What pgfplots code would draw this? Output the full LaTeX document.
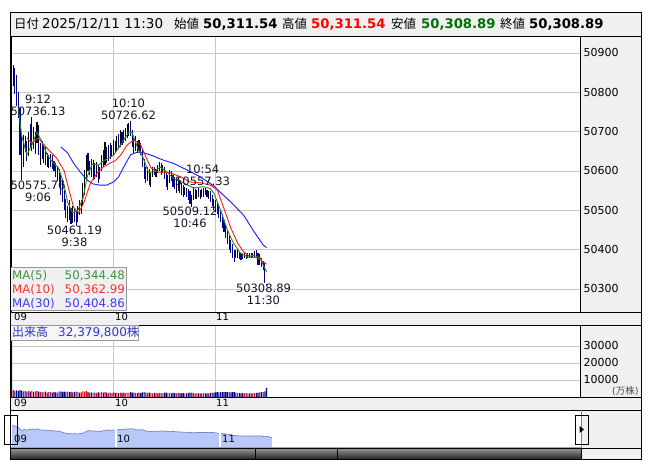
\documentclass[border=0pt]{standalone}
\usepackage{fontspec}
\setmainfont{DejaVu Sans}
\newfontfamily\jp{Noto Sans CJK JP}
\usepackage{pgfplots}
\pgfplotsset{compat=1.18}
\usepackage{pgfplotstable}

\definecolor{panel}{HTML}{F0F0F0}
\definecolor{gridc}{HTML}{C8C8C8}
\definecolor{barup}{HTML}{000000}
\definecolor{bardn}{HTML}{00008B}
\definecolor{maG}{HTML}{1E8C1E}
\definecolor{maR}{HTML}{FF1A1A}
\definecolor{maB}{HTML}{1A1AFF}
\definecolor{volR}{HTML}{FF0000}
\definecolor{volB}{HTML}{00008B}
\definecolor{navfill}{HTML}{B8C8F8}
\definecolor{navline}{HTML}{7884C8}
\definecolor{lbltext}{HTML}{3434C8}
\definecolor{anno}{HTML}{141428}
\definecolor{hgreen}{HTML}{007000}
\definecolor{hred}{HTML}{FF0000}
\definecolor{cyanl}{HTML}{1AA0E0}
\definecolor{lgG}{HTML}{3C963C}
\definecolor{lgR}{HTML}{FF3232}
\definecolor{lgB}{HTML}{3C3CFF}

% t = minutes after 9:00, lo/hi = bar range, c = close, v = volume (10k shares), d = 1 up / 0 down
\pgfplotstableread{
t lo hi c v d
0 50780 50877 50830 45000 0
1 50815 50870 50855 4200 1
2 50795 50862 50810 3600 0
3 50765 50845 50790 3900 0
4 50735 50800 50750 3500 0
5 50640 50760 50660 4100 0
6 50576 50690 50620 3800 0
7 50610 50692 50680 3300 1
8 50648 50690 50660 3600 0
9 50625 50676 50640 3200 0
10 50638 50700 50690 3500 1
11 50660 50720 50670 3100 0
12 50652 50736 50700 3700 1
13 50655 50712 50665 3000 0
14 50642 50700 50690 3300 1
15 50672 50725 50710 3400 1
16 50640 50716 50650 3100 0
17 50615 50670 50660 2800 1
18 50630 50676 50645 3000 0
19 50620 50665 50655 2700 1
20 50615 50660 50625 3200 0
21 50610 50645 50630 2600 1
22 50608 50640 50615 2900 0
23 50610 50642 50635 2800 1
24 50605 50640 50615 2500 0
25 50600 50625 50610 3000 0
26 50585 50620 50595 2700 0
27 50575 50612 50605 2600 1
28 50572 50606 50580 3100 0
29 50540 50595 50550 3300 0
30 50520 50580 50530 3000 0
31 50500 50552 50510 3200 0
32 50480 50530 50490 2900 0
33 50470 50512 50500 3100 1
34 50475 50525 50485 2800 0
35 50465 50505 50475 3000 0
36 50468 50510 50495 2700 1
37 50470 50505 50480 2900 0
38 50461 50500 50470 3200 0
39 50470 50510 50500 2800 1
40 50488 50526 50495 2600 0
41 50490 50525 50515 2700 1
42 50510 50570 50560 3300 1
43 50540 50603 50590 3100 1
44 50580 50640 50630 3400 1
45 50600 50646 50610 2900 0
46 50590 50625 50620 2600 1
47 50585 50630 50595 2700 0
48 50577 50628 50615 2500 1
49 50580 50620 50590 2600 0
50 50585 50623 50610 2400 1
51 50570 50615 50580 2700 0
52 50580 50610 50600 2500 1
53 50600 50640 50630 2800 1
54 50610 50653 50620 2600 0
55 50615 50674 50660 2900 1
56 50620 50660 50635 2500 0
57 50625 50665 50650 2400 1
58 50630 50671 50645 2600 0
59 50635 50665 50655 2300 1
60 50640 50679 50665 2700 1
61 50646 50675 50655 2400 0
62 50650 50690 50680 2600 1
63 50655 50695 50670 2300 0
64 50660 50704 50690 2500 1
65 50665 50700 50680 2400 0
66 50670 50705 50695 2600 1
67 50675 50710 50700 2300 1
68 50685 50720 50705 2500 1
69 50690 50722 50710 2400 1
70 50690 50727 50700 2800 0
71 50660 50705 50670 2600 0
72 50646 50685 50660 2500 0
73 50650 50690 50665 2400 1
74 50646 50675 50655 2300 0
75 50650 50679 50665 2500 1
76 50640 50672 50650 2400 0
77 50610 50655 50620 2700 0
78 50580 50630 50595 2800 0
79 50570 50610 50590 2500 0
80 50575 50610 50600 2400 1
81 50565 50605 50575 2600 0
82 50560 50595 50590 2300 1
83 50585 50610 50600 2200 1
84 50590 50610 50595 2400 0
85 50585 50605 50600 2300 1
86 50595 50615 50605 2200 1
87 50600 50623 50615 2400 1
88 50590 50620 50600 2300 0
89 50595 50615 50605 2200 1
90 50580 50610 50590 2500 0
91 50560 50600 50570 2600 0
92 50552 50590 50585 2400 1
93 50570 50602 50590 2300 1
94 50575 50600 50580 2200 0
95 50560 50590 50575 2400 0
96 50555 50585 50565 2300 0
97 50545 50580 50570 2200 1
98 50550 50585 50560 2400 0
99 50544 50575 50555 2300 0
100 50540 50570 50550 2200 0
101 50535 50565 50545 2300 0
102 50538 50560 50550 2100 1
103 50535 50558 50545 2200 0
104 50525 50555 50535 2400 0
105 50515 50548 50525 2500 0
106 50509 50540 50530 2600 1
107 50525 50559 50545 2300 1
108 50530 50555 50540 2200 0
109 50530 50552 50545 2100 1
110 50535 50558 50540 2200 0
111 50530 50552 50545 2100 1
112 50535 50555 50540 2200 0
113 50535 50556 50550 2300 1
114 50540 50557 50545 2200 0
115 50535 50552 50540 2100 0
116 50530 50550 50545 2200 1
117 50520 50548 50530 2400 0
118 50510 50540 50520 2500 0
119 50500 50530 50510 2600 0
120 50495 50525 50505 2700 0
121 50490 50520 50500 2800 0
122 50480 50510 50490 2700 0
123 50470 50500 50480 2900 0
124 50455 50490 50465 3000 0
125 50445 50475 50455 2800 0
126 50430 50465 50440 2900 0
127 50415 50450 50425 3000 0
128 50400 50435 50410 2800 0
129 50392 50425 50405 2700 0
130 50380 50415 50395 2900 0
131 50369 50400 50390 2800 0
132 50380 50399 50385 2500 0
133 50379 50398 50390 2400 1
134 50375 50395 50385 2300 0
135 50374 50392 50385 2200 0
136 50376 50390 50380 2300 0
137 50378 50392 50388 2200 1
138 50375 50390 50382 2300 0
139 50379 50392 50388 2100 1
140 50380 50392 50384 2200 0
141 50379 50391 50385 2100 1
142 50378 50392 50383 2200 0
143 50378 50396 50388 2300 1
144 50380 50399 50386 2400 0
145 50362 50392 50366 2500 0
146 50362 50390 50372 2700 1
147 50355 50378 50365 2800 0
148 50348 50370 50361 2900 0
149 50315 50365 50316 3300 0
150 50309 50312 50309 5300 0
}\bars

\pgfplotsset{panelax/.style={scale only axis, anchor=south west,
  xmin=-0.3, xmax=334.4, xtick={60,120}, xticklabels={,,},
  grid=major, major grid style={gridc, line width=0.7pt},
  axis line style={black, line width=0.8pt}, major tick length=0pt,
  tick style={draw=none}, scaled y ticks=false, scaled x ticks=false,
  yticklabel pos=right,
  yticklabel style={font=\fontsize{11}{11}\selectfont, anchor=west},
  clip=true}}

\begin{document}
\begin{tikzpicture}[x=1pt,y=1pt]
\useasboundingbox (0,0) rectangle (653,470);
\fill[white] (0,0) rectangle (653,470);
% right panels
\fill[panel] (580,158) rectangle (641,434);
\fill[panel] (580,73) rectangle (641,145);
\fill[panel] (581,11) rectangle (641,60);

% ---------- main price panel ----------
\begin{axis}[panelax, at={(11pt,158pt)}, width=569pt, height=276pt,
  ymin=50241.5, ymax=50943.2,
  ytick={50300,50400,50500,50600,50700,50800,50900},
  yticklabels={50300,50400,50500,50600,50700,50800,50900}]
\addplot[draw=none, mark=none, forget plot,
  error bars/.cd, y dir=minus, y explicit, error mark=none,
  error bar style={draw=bardn, line width=1.1pt}]
  table[x=t, y expr={\thisrow{d}>0.5 ? nan : \thisrow{hi}}, y error expr={\thisrow{hi}-\thisrow{lo}}] {\bars};
\addplot[draw=none, mark=none, forget plot,
  error bars/.cd, y dir=minus, y explicit, error mark=none,
  error bar style={draw=barup, line width=1.1pt}]
  table[x=t, y expr={\thisrow{d}>0.5 ? \thisrow{hi} : nan}, y error expr={\thisrow{hi}-\thisrow{lo}}] {\bars};
% MA(30)
\addplot[maB, line width=0.9pt] coordinates {(29,50661)(33,50646)(36.5,50620)(40.5,50597)(44.5,50577)(48,50567)(52,50564)(56,50564)(60,50572)(63,50585)(66,50610)(70,50641)(74,50648)(78,50646)(83.5,50638)(89,50628)(95,50620)(103.5,50602)(111,50585)(119,50562)(123,50545)(129,50521)(136.5,50488)(142,50450)(148,50412)(150,50405)};
% MA(10)
\addplot[maR, line width=0.9pt] coordinates {(9,50684)(12,50671)(16,50684)(17.5,50674)(22,50653)(26.5,50633)(29,50615)(31,50600)(33,50565)(36.5,50508)(39.5,50493)(42.5,50519)(46.5,50570)(50.5,50595)(54,50610)(58,50620)(61,50626)(64.5,50642)(68,50666)(72,50679)(76,50666)(79,50636)(82,50608)(86,50597)(89,50597)(93.5,50595)(99.5,50585)(105,50572)(111,50570)(117,50564)(121,50552)(124.7,50508)(129,50455)(133,50417)(136.5,50394)(140.5,50381)(144.5,50379)(148,50369)(150,50363)};
% MA(5)
\addplot[maG, line width=0.9pt] coordinates {(4,50760)(6,50690)(9,50641)(12,50666)(15,50699)(18,50674)(21,50641)(24,50623)(27.5,50608)(30.5,50572)(33,50521)(36,50493)(39,50500)(42,50530)(44.5,50585)(47.5,50618)(51,50615)(55,50628)(60,50640)(64,50665)(69,50699)(71,50697)(74,50661)(77.5,50633)(80.5,50597)(83.5,50597)(87.5,50610)(91.5,50597)(95,50582)(101,50570)(107,50557)(113,50560)(117,50555)(119,50544)(123,50500)(127,50450)(130.5,50417)(134.5,50392)(139,50381)(142,50386)(146.5,50379)(148,50361)(150,50344)};
% annotations of highs and lows
\begin{scope}[every node/.style={font=\fontsize{11.5}{12}\selectfont, text=anno, inner sep=0pt, align=center}]
\node[anchor=south] at (axis cs:15.6,50741) {9:12\\50736.13};
\node[anchor=north] at (axis cs:15.6,50574) {50575.76\\9:06};
\node[anchor=north] at (axis cs:37.0,50460) {50461.19\\9:38};
\node[anchor=south] at (axis cs:68.8,50731) {10:10\\50726.62};
\node[anchor=south] at (axis cs:112.4,50562) {10:54\\50557.33};
\node[anchor=north] at (axis cs:105.0,50508) {50509.12\\10:46};
\node[anchor=north] at (axis cs:148.2,50312) {50308.89\\11:30};
\end{scope}
\end{axis}

% ---------- volume panel ----------
\begin{axis}[panelax, at={(11pt,73pt)}, width=569pt, height=72pt,
  ymin=0, ymax=42353, ytick={10000,20000,30000},
  yticklabels={10000,20000,30000}]
\addplot[ybar, bar width=1.1pt, bar shift=0pt, draw=none, fill=volB]
  table[x=t, y expr={\thisrow{d}>0.5 ? nan : \thisrow{v}}] {\bars};
\addplot[ybar, bar width=1.1pt, bar shift=0pt, draw=none, fill=volR]
  table[x=t, y expr={\thisrow{d}>0.5 ? \thisrow{v} : nan}] {\bars};
\end{axis}

% ---------- navigator ----------
\begin{axis}[at={(10pt,22pt)}, anchor=south west, scale only axis,
  width=571pt, height=38pt, xmin=-1.154, xmax=328.3, ymin=49850, ymax=51547,
  hide axis, clip=true]
\addplot[fill=navfill, draw=none] table[x=t, y=c] {\bars} \closedcycle;
\addplot[navline, line width=0.7pt] table[x=t, y=c] {\bars};
\addplot[white, line width=1.3pt] coordinates {(60,49850)(60,51547)};
\addplot[white, line width=1.3pt] coordinates {(120,49850)(120,51547)};
\end{axis}

% time strips (drawn over the axes' surroundings)
\filldraw[fill=panel, draw=black, line width=0.8pt] (10,145) rectangle (641,158);
\filldraw[fill=panel, draw=black, line width=0.8pt] (10,60) rectangle (641,73);

% ---------- header ----------
\filldraw[fill=panel, draw=black, line width=0.8pt] (10,434) rectangle (641,458);
\begin{scope}[every node/.style={inner sep=0pt, anchor=base west}]
\node at (14,441) {\fontsize{12.5}{13}\selectfont\jp 日付};
\node at (42,441) {\fontsize{13.5}{14}\selectfont 2025/12/11 11:30};
\node at (174,441) {\fontsize{12.5}{13}\selectfont\jp 始値};
\node at (203,441) {\fontsize{13.2}{14}\selectfont\bfseries 50,311.54};
\node at (282,441) {\fontsize{12.5}{13}\selectfont\jp 高値};
\node at (311,441) {\fontsize{13.2}{14}\selectfont\bfseries\color{hred} 50,311.54};
\node at (391,441) {\fontsize{12.5}{13}\selectfont\jp 安値};
\node at (421,441) {\fontsize{13.2}{14}\selectfont\bfseries\color{hgreen} 50,308.89};
\node at (500,441) {\fontsize{12.5}{13}\selectfont\jp 終値};
\node at (529,441) {\fontsize{13.2}{14}\selectfont\bfseries 50,308.89};
% time strips
\node at (14,149) {\fontsize{10}{10}\selectfont 09};
\node at (115,149) {\fontsize{10}{10}\selectfont 10};
\node at (216,149) {\fontsize{10}{10}\selectfont 11};
\node at (14,63.7) {\fontsize{10}{10}\selectfont 09};
\node at (115,63.7) {\fontsize{10}{10}\selectfont 10};
\node at (216,63.7) {\fontsize{10}{10}\selectfont 11};
% navigator labels
\node at (14,27) {\fontsize{10}{10}\selectfont 09};
\node at (117,27) {\fontsize{10}{10}\selectfont 10};
\node at (222,27) {\fontsize{10}{10}\selectfont 11};
% volume unit
\node[text=black!70] at (612,75) {\fontsize{9.5}{10}\selectfont ({\jp 万株})};
\end{scope}

% MA legend box
\filldraw[fill=panel, draw=black!40, line width=0.7pt] (10,160) rectangle (126,203);
\begin{scope}[every node/.style={inner sep=0pt, font=\fontsize{11.8}{12}\selectfont}]
\node[anchor=base west, text=lgG] at (12,190.7) {MA(5)};
\node[anchor=base east, text=lgG] at (125,190.7) {50,344.48};
\node[anchor=base west, text=lgR] at (12,176.7) {MA(10)};
\node[anchor=base east, text=lgR] at (125,176.7) {50,362.99};
\node[anchor=base west, text=lgB] at (12,162.7) {MA(30)};
\node[anchor=base east, text=lgB] at (125,162.7) {50,404.86};
\end{scope}

% volume label box
\filldraw[fill=panel!60, draw=black!40, line width=0.7pt] (10,130) rectangle (138,145);
\node[inner sep=0pt, anchor=base west, text=lbltext, font=\fontsize{12}{12}\selectfont] at (12,133) {{\jp 出来高}};
\node[inner sep=0pt, anchor=base west, text=lbltext, font=\fontsize{12}{12}\selectfont] at (58,133) {32,379,800{\jp 株}};

% navigator handles and scrollbar
\draw[cyanl, line width=0.8pt] (10.5,22) -- (10.5,60);
\draw[cyanl, line width=0.8pt] (581,22) -- (581,60);
\draw[black, line width=0.7pt] (4,26) rectangle (17,55);
\draw[black, line width=0.7pt] (575,26) rectangle (588,55);
\fill[black] (579.5,37) -- (579.5,44) -- (584,40.5) -- cycle;
\shade[top color=black!40, bottom color=black!85] (10,11) rectangle (581,22);
\draw[black, line width=0.8pt] (10,11) rectangle (581,22);
\draw[black, line width=0.8pt] (255,11) -- (255,22);
\draw[black, line width=0.8pt] (337,11) -- (337,22);
% outer frame
\draw[black, line width=0.8pt] (10,11) rectangle (641,458);
\draw[black, line width=0.8pt] (581,22) -- (641,22);
\draw[black, line width=0.8pt] (580,158) -- (580,434);
\draw[black, line width=0.8pt] (580,73) -- (580,145);
\end{tikzpicture}
\end{document}
